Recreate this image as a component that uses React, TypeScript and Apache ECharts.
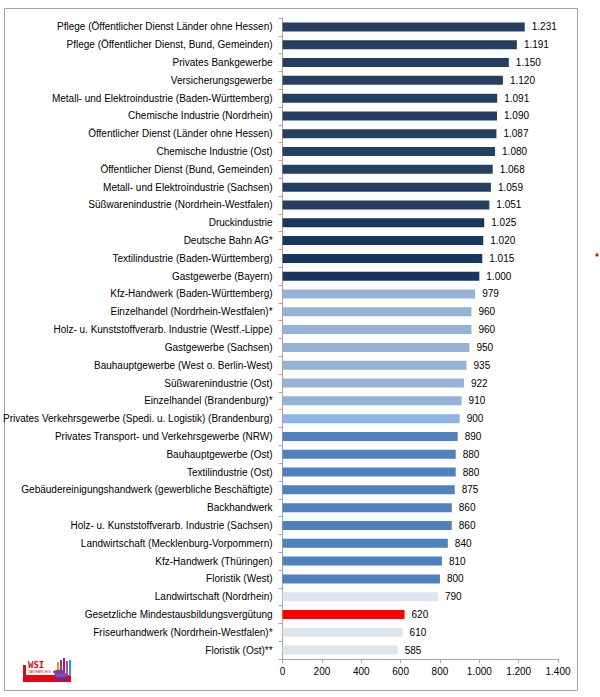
import React, { useEffect, useRef } from "react";
import * as echarts from "echarts";

const categories = [
  "Pflege (Öffentlicher Dienst Länder ohne Hessen)",
  "Pflege (Öffentlicher Dienst, Bund, Gemeinden)",
  "Privates Bankgewerbe",
  "Versicherungsgewerbe",
  "Metall- und Elektroindustrie (Baden-Württemberg)",
  "Chemische Industrie (Nordrhein)",
  "Öffentlicher Dienst (Länder ohne Hessen)",
  "Chemische Industrie (Ost)",
  "Öffentlicher Dienst (Bund, Gemeinden)",
  "Metall- und Elektroindustrie (Sachsen)",
  "Süßwarenindustrie (Nordrhein-Westfalen)",
  "Druckindustrie",
  "Deutsche Bahn AG*",
  "Textilindustrie (Baden-Württemberg)",
  "Gastgewerbe (Bayern)",
  "Kfz-Handwerk (Baden-Württemberg)",
  "Einzelhandel (Nordrhein-Westfalen)*",
  "Holz- u. Kunststoffverarb. Industrie (Westf.-Lippe)",
  "Gastgewerbe (Sachsen)",
  "Bauhauptgewerbe (West o. Berlin-West)",
  "Süßwarenindustrie (Ost)",
  "Einzelhandel (Brandenburg)*",
  "Privates Verkehrsgewerbe (Spedi. u. Logistik) (Brandenburg)",
  "Privates Transport- und Verkehrsgewerbe (NRW)",
  "Bauhauptgewerbe (Ost)",
  "Textilindustrie (Ost)",
  "Gebäudereinigungshandwerk (gewerbliche Beschäftigte)",
  "Backhandwerk",
  "Holz- u. Kunststoffverarb. Industrie (Sachsen)",
  "Landwirtschaft (Mecklenburg-Vorpommern)",
  "Kfz-Handwerk (Thüringen)",
  "Floristik (West)",
  "Landwirtschaft (Nordrhein)",
  "Gesetzliche Mindestausbildungsvergütung",
  "Friseurhandwerk (Nordrhein-Westfalen)*",
  "Floristik (Ost)**",
];

const values = [
  1231, 1191, 1150, 1120, 1091, 1090, 1087, 1080, 1068, 1059, 1051, 1025, 1020,
  1015, 1000, 979, 960, 960, 950, 935, 922, 910, 900, 890, 880, 880, 875, 860,
  860, 840, 810, 800, 790, 620, 610, 585,
];

const groups = [
  "navy", "navy", "navy", "navy", "navy", "navy", "navy", "navy", "navy", "navy",
  "navy", "navy2", "navy2", "navy2", "navy2",
  "light", "light", "light", "light", "light", "light", "light", "light2",
  "mid", "mid", "mid", "mid", "mid", "mid", "mid", "mid", "mid",
  "pale", "red", "pale", "pale",
];

const xTicks = [0, 200, 400, 600, 800, 1000, 1200, 1400];

const groupColors: Record<string, string> = {
  navy: "#243F60",
  navy2: "#17375E",
  light: "#95B3D7",
  light2: "#8DB4E2",
  mid: "#4F81BD",
  pale: "#DCE6F1",
  red: "#FF0000",
};

const fmt = (v: number) =>
  String(v).replace(/\B(?=(\d{3})+(?!\d))/g, ".");

const FONT = "'Liberation Sans', Arial, sans-serif";

export default function App() {
  const ref = useRef<HTMLDivElement>(null);

  useEffect(() => {
    if (!ref.current) return;
    const chart = echarts.init(ref.current, undefined, { renderer: "svg" });
    chart.setOption({
      animation: false,
      backgroundColor: "#ffffff",
      textStyle: { fontFamily: FONT },
      grid: { left: 282, right: 42, top: 18, bottom: 38, containLabel: false },
      xAxis: {
        type: "value",
        min: xTicks[0],
        max: xTicks[xTicks.length - 1],
        interval: 200,
        axisLine: { show: true, lineStyle: { color: "#A6A6A6", width: 1 } },
        axisTick: { show: true, length: 4, lineStyle: { color: "#A6A6A6" } },
        splitLine: { show: false },
        axisLabel: {
          color: "#000",
          fontSize: 10,
          fontFamily: FONT,
          margin: 7,
          formatter: (v: number) => fmt(v),
        },
      },
      yAxis: {
        type: "category",
        inverse: true,
        data: categories,
        axisLine: { show: true, lineStyle: { color: "#A6A6A6", width: 1 } },
        axisTick: { show: true, length: 4, lineStyle: { color: "#A6A6A6" } },
        axisLabel: {
          color: "#000",
          fontSize: 10,
          fontFamily: FONT,
          margin: 10,
          interval: 0,
        },
      },
      series: [
        {
          type: "bar",
          barWidth: 9,
          data: values.map((v, i) => ({
            value: v,
            itemStyle: { color: groupColors[groups[i]] },
          })),
          label: {
            show: true,
            position: "right",
            distance: 7,
            color: "#000",
            fontSize: 10,
            fontFamily: FONT,
            formatter: (p: any) => fmt(p.value),
          },
        },
      ],
      graphic: [
        {
          type: "rect",
          shape: { x: 4.5, y: 8.5, width: 573, height: 682 },
          style: { fill: "none", stroke: "#A6A6A6", lineWidth: 1 },
          silent: true,
        },
        {
          type: "circle",
          shape: { cx: 597, cy: 255, r: 1.6 },
          style: { fill: "#FF0000" },
          silent: true,
        },
        {
          type: "group",
          left: 23,
          top: 658,
          children: [
            { type: "rect", shape: { x: 0, y: 17, width: 48, height: 7 }, style: { fill: "#E30613" } },
            { type: "rect", shape: { x: 0, y: 7, width: 3, height: 11 }, style: { fill: "#E30613" } },
            { type: "rect", shape: { x: 34, y: 4, width: 2, height: 14 }, style: { fill: "#F39200" } },
            { type: "rect", shape: { x: 37, y: 2, width: 2, height: 16 }, style: { fill: "#7B3F98" } },
            { type: "rect", shape: { x: 40, y: 0, width: 2, height: 18 }, style: { fill: "#E4007C" } },
            { type: "rect", shape: { x: 43, y: 3, width: 2, height: 15 }, style: { fill: "#9B59B6" } },
            { type: "rect", shape: { x: 46, y: 2, width: 2, height: 16 }, style: { fill: "#1BA3C6" } },
            { type: "ellipse", shape: { cx: 38, cy: 20, rx: 7, ry: 2.5 }, style: { fill: "#6A2C8C" } },
            { type: "ellipse", shape: { cx: 38, cy: 17, rx: 7, ry: 2.5 }, style: { fill: "#8E44AD" } },
            { type: "ellipse", shape: { cx: 36, cy: 14, rx: 6, ry: 2.2 }, style: { fill: "#7B3F98" } },
            {
              type: "text",
              style: { text: "WSI", x: 5, y: 2, fill: "#E30613", fontSize: 9, fontWeight: "bold", fontFamily: "'DejaVu Sans Mono', monospace" },
            },
            {
              type: "text",
              style: { text: "TARIFARCHIV", x: 5, y: 12, fill: "#E30613", fontSize: 3.5, fontFamily: FONT },
            },
          ],
        },
      ],
    });
    return () => chart.dispose();
  }, []);

  return (
    <div
      ref={ref}
      style={{ position: "absolute", left: 0, top: 0, width: 600, height: 697 }}
    />
  );
}
